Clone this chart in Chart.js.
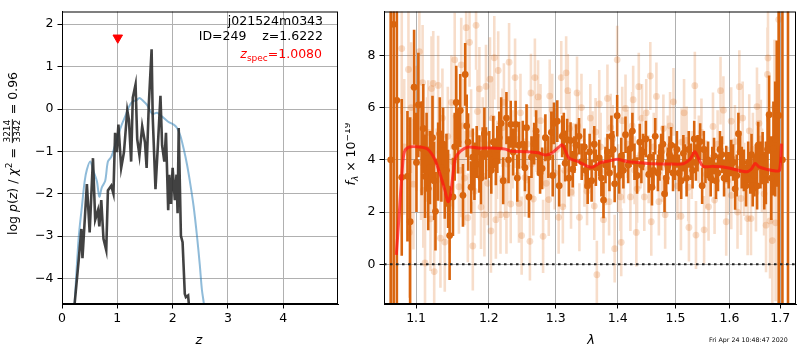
<!DOCTYPE html>
<html>
<head>
<meta charset="utf-8">
<script src="https://cdn.jsdelivr.net/npm/chart.js@4/dist/chart.umd.min.js"></script>
<style>
  html, body { margin: 0; padding: 0; background: #fff; }
  #wrap { position: relative; width: 800px; height: 350px; }
  canvas { position: absolute; top: 0; }
</style>
</head>
<body>
<div id="wrap">
  <canvas id="pz" width="345" height="350" style="left:0"></canvas>
  <canvas id="spec" width="455" height="350" style="left:345px"></canvas>
</div>
<script>
// ---- left panel: p(z) ----
const blueZ = [0.15, 0.23, 0.30, 0.36, 0.41, 0.45, 0.51, 0.57, 0.63, 0.675, 0.72, 0.78, 0.83, 0.89, 0.96, 1.02, 1.08, 1.15, 1.21, 1.28, 1.34, 1.40, 1.46, 1.54, 1.60, 1.64, 1.72, 1.81, 1.92, 2.02, 2.08, 2.14, 2.20, 2.26, 2.32, 2.38, 2.44, 2.49, 2.53, 2.57, 2.65];
const blueLogp = [-6.5, -4.57, -3.06, -2.30, -1.70, -1.43, -1.24, -1.47, -1.70, -2.07, -1.85, -1.70, -1.24, -1.13, -0.86, -0.60, -0.37, -0.15, 0.05, 0.18, 0.20, 0.26, 0.20, 0.09, -0.06, -0.12, -0.09, -0.18, -0.30, -0.37, -0.45, -0.63, -0.94, -1.31, -1.77, -2.30, -2.99, -3.66, -4.27, -4.65, -6.0];

const blackZ = [0.20, 0.23, 0.30, 0.35, 0.37, 0.45, 0.50, 0.56, 0.60, 0.65, 0.675, 0.71, 0.75, 0.80, 0.83, 0.89, 0.93, 0.96, 0.99, 1.02, 1.07, 1.12, 1.18, 1.21, 1.25, 1.28, 1.33, 1.36, 1.40, 1.45, 1.50, 1.53, 1.57, 1.62, 1.64, 1.69, 1.73, 1.78, 1.81, 1.85, 1.88, 1.92, 1.94, 1.97, 2.00, 2.04, 2.07, 2.09, 2.11, 2.15, 2.18, 2.22, 2.24, 2.28, 2.30, 2.33];
const blackLogp = [-5.5, -4.57, -3.59, -2.83, -3.52, -1.77, -2.91, -1.16, -2.61, -2.39, -2.77, -2.15, -3.06, -3.33, -1.92, -1.81, -2.0, -0.56, -1.02, -0.37, -1.39, -1.02, -0.03, -0.25, -1.24, 0.27, 0.58, -0.71, -1.09, -0.41, -0.79, -1.39, 0.12, 1.41, -0.18, -1.89, -0.94, 0.31, -0.86, -1.24, -0.56, -2.39, -1.55, -2.24, -1.39, -2.15, -1.55, -2.46, -0.45, -2.99, -3.14, -4.36, -4.44, -4.40, -4.7, -5.5];

const zspec = [1.008];
const zspecMark = [1.68];
const zTicks = [0, 1, 2, 3, 4];
const logpTicks = [-4, -3, -2, -1, 0, 1, 2];

// ---- right panel: spectrum ----
// dark points with a visible marker
const darkWave = [1.0671, 1.0709, 1.075, 1.0813, 1.0887, 1.0922, 1.0974, 1.103, 1.1073, 1.1118, 1.1139, 1.1184, 1.1218, 1.1258, 1.1294, 1.1338, 1.1384, 1.1429, 1.145, 1.1496, 1.152, 1.1565, 1.1596, 1.1634, 1.1665, 1.1706, 1.1748, 1.1795, 1.1827, 1.1865, 1.1912, 1.1959, 1.2006, 1.2064, 1.2101, 1.215, 1.2207, 1.2255, 1.2318, 1.239, 1.244, 1.2553, 1.2589, 1.2668, 1.2728, 1.2789, 1.2839, 1.2931, 1.2972, 1.3023, 1.3053, 1.3146, 1.3178, 1.3231, 1.3266, 1.3318, 1.3366, 1.3409, 1.3505, 1.3569, 1.3638, 1.3693, 1.3763, 1.3828, 1.3894, 1.3948, 1.399, 1.4058, 1.413, 1.4213, 1.4282, 1.4373, 1.4429, 1.4527, 1.4584, 1.4641, 1.4688, 1.4745, 1.4805, 1.4864, 1.4922, 1.499, 1.5063, 1.5142, 1.5201, 1.5279, 1.534, 1.5401, 1.5449, 1.5486, 1.5547, 1.5645, 1.5708, 1.5782, 1.5857, 1.5938, 1.6033, 1.6109, 1.6172, 1.6237, 1.632, 1.6404, 1.6451, 1.6515, 1.656, 1.6647, 1.6712, 1.6777, 1.6864, 1.6931, 1.697, 1.7046, 1.716];
const darkFlux = [4.0, 9.19, 6.28, 3.33, 3.37, 1.63, 6.78, 6.1, 4.44, 3.37, 4.3, 3.7, 4.85, 2.03, 3.93, 3.7, 3.14, 2.89, 1.1, 2.58, 4.5, 4.68, 5.89, 2.64, 7.27, 4.68, 2.95, 3.56, 4.3, 3.84, 4.25, 4.25, 4.2, 4.68, 3.93, 4.85, 3.2, 5.6, 5.36, 5.36, 4.56, 5.23, 2.58, 4.62, 4.2, 3.67, 4.85, 5.05, 5.4, 5.48, 3.01, 3.87, 4.77, 4.74, 3.64, 4.56, 4.9, 3.93, 3.01, 3.2, 3.7, 4.07, 2.46, 4.3, 4.9, 3.08, 5.69, 4.15, 4.96, 4.43, 3.93, 4.68, 4.3, 3.44, 2.95, 4.9, 3.5, 4.3, 2.7, 3.77, 4.56, 3.93, 3.5, 4.25, 3.3, 3.93, 4.8, 4.25, 4.7, 3.01, 3.8, 3.3, 4.15, 3.5, 4.2, 3.84, 4.07, 2.89, 5.0, 3.7, 3.01, 3.5, 3.01, 3.7, 4.56, 4.07, 3.5, 5.73, 4.43, 5.77, 5.7, 4.0, 12];
const darkErr = [30, 20, 8, 3.0, 2.5, 4, 2.2, 2.0, 1.8, 1.6, 1.5, 1.4, 1.6, 1.5, 1.5, 1.3, 1.4, 1.5, 1.7, 1.5, 1.3, 1.2, 1.4, 1.2, 1.2, 1.1, 1.0, 1.1, 1.0, 1.1, 1.0, 1.0, 0.9, 1.0, 0.9, 1.0, 0.9, 1.0, 0.9, 0.9, 0.9, 0.9, 0.8, 0.8, 0.8, 0.8, 0.9, 0.8, 0.8, 0.8, 0.8, 0.7, 0.8, 0.7, 0.7, 0.8, 0.7, 0.7, 0.7, 0.8, 0.7, 0.7, 0.7, 0.7, 0.8, 0.7, 0.8, 0.7, 0.7, 0.7, 0.7, 0.7, 0.7, 0.7, 0.7, 0.7, 0.7, 0.7, 0.7, 0.7, 0.7, 0.7, 0.7, 0.7, 0.7, 0.7, 0.7, 0.7, 0.7, 0.7, 0.7, 0.7, 0.7, 0.7, 0.7, 0.7, 0.7, 0.8, 0.8, 0.8, 0.8, 0.8, 0.8, 0.9, 0.9, 1.0, 1.2, 1.5, 1.8, 2.8, 30, 30, 30];

// dark bars packed in between (markers mostly hidden by neighbours)
const darkWaveB = [1.1005, 1.1095, 1.1161, 1.1239, 1.1316, 1.1361, 1.1407, 1.1541, 1.1686, 1.1772, 1.1888, 1.1936, 1.2035, 1.2122, 1.2178, 1.2286, 1.2354, 1.2415, 1.2497, 1.2529, 1.2628, 1.2698, 1.2758, 1.2885, 1.2952, 1.3099, 1.3125, 1.3204, 1.3292, 1.3452, 1.3473, 1.3537, 1.3612, 1.3728, 1.3796, 1.3862, 1.3924, 1.4024, 1.4094, 1.4175, 1.4247, 1.4327, 1.4401, 1.4478, 1.4555, 1.4612, 1.4716, 1.4776, 1.4835, 1.4893, 1.4956, 1.5026, 1.5103, 1.5172, 1.524, 1.531, 1.5371, 1.5517, 1.5596, 1.5675, 1.5745, 1.582, 1.5897, 1.5985, 1.607, 1.614, 1.6205, 1.6278, 1.6362, 1.6428, 1.6483, 1.6538, 1.6604, 1.668, 1.6745, 1.6821, 1.6899];
const darkFluxB = [3.9, 5.2, 2.9, 3.2, 5.0, 4.6, 3.6, 6.2, 5.3, 4.1, 3.3, 5.0, 3.6, 4.4, 5.4, 4.0, 4.3, 3.3, 4.6, 3.7, 4.1, 5.1, 3.5, 4.1, 3.4, 4.9, 5.0, 3.3, 4.2, 4.5, 3.6, 4.3, 4.6, 3.3, 3.8, 3.5, 4.4, 3.4, 3.6, 3.8, 5.1, 3.4, 3.8, 4.8, 4.1, 3.6, 3.9, 4.6, 3.3, 4.2, 3.5, 4.4, 3.2, 3.9, 4.4, 3.6, 3.9, 4.4, 4.0, 3.8, 3.2, 4.4, 3.3, 3.6, 3.9, 3.4, 4.3, 3.6, 3.9, 4.2, 3.4, 3.0, 3.8, 3.2, 4.4, 3.3, 4.8];
const darkErrB = [1.9, 1.7, 1.6, 1.5, 1.4, 1.4, 1.4, 1.4, 1.2, 1.1, 1.0, 1.0, 0.9, 0.9, 1.0, 0.9, 0.9, 0.9, 0.9, 0.9, 0.8, 0.8, 0.8, 0.8, 0.8, 0.8, 0.8, 0.7, 0.7, 0.7, 0.7, 0.7, 0.7, 0.7, 0.7, 0.7, 0.7, 0.7, 0.7, 0.7, 0.7, 0.7, 0.7, 0.7, 0.7, 0.7, 0.7, 0.7, 0.7, 0.7, 0.7, 0.7, 0.7, 0.7, 0.7, 0.7, 0.7, 0.7, 0.7, 0.7, 0.7, 0.7, 0.7, 0.7, 0.7, 0.8, 0.8, 0.8, 0.8, 0.8, 0.8, 0.9, 0.9, 1.1, 1.3, 1.6, 2.2];

// faint (second grism) points
const lightWave = [1.0813, 1.09, 1.0913, 1.0965, 1.1043, 1.1086, 1.1095, 1.1118, 1.1161, 1.1191, 1.1205, 1.1228, 1.1241, 1.1294, 1.1317, 1.1325, 1.1384, 1.145, 1.1496, 1.152, 1.1541, 1.1578, 1.161, 1.1634, 1.1679, 1.1702, 1.1726, 1.1772, 1.1818, 1.1838, 1.1865, 1.1888, 1.1936, 1.1959, 1.2016, 1.203, 1.2078, 1.2101, 1.2135, 1.2168, 1.2197, 1.2236, 1.2255, 1.2269, 1.2294, 1.2318, 1.2382, 1.239, 1.2416, 1.244, 1.248, 1.2529, 1.2604, 1.2619, 1.2628, 1.2679, 1.2705, 1.2728, 1.2804, 1.2853, 1.2891, 1.2906, 1.2982, 1.3044, 1.3085, 1.311, 1.3162, 1.3188, 1.3239, 1.3334, 1.3345, 1.3372, 1.3452, 1.3584, 1.3612, 1.3633, 1.3654, 1.3693, 1.3763, 1.3799, 1.3828, 1.3882, 1.3948, 1.399, 1.4046, 1.4058, 1.4103, 1.413, 1.4213, 1.4242, 1.426, 1.4314, 1.4327, 1.4356, 1.4412, 1.4451, 1.4527, 1.4555, 1.4572, 1.4662, 1.4757, 1.4816, 1.4903, 1.4964, 1.5098, 1.5111, 1.5201, 1.5231, 1.5243, 1.5351, 1.5372, 1.5473, 1.5522, 1.5565, 1.5688, 1.5718, 1.583, 1.5938, 1.6033, 1.6035, 1.619, 1.6222, 1.6286, 1.6352, 1.6383, 1.6417, 1.6515, 1.6535, 1.6612, 1.6677, 1.6744, 1.6755, 1.6795, 1.6842, 1.6908, 1.697];
const lightFlux = [8.26, 7.46, 1.22, 3.07, 8.14, 6.96, 2.83, 0.05, 5.05, 1.74, 6.73, 6.93, -0.28, 6.85, 4.3, 1.0, 0.85, 2.33, 3.93, 7.83, 5.67, 2.97, 7.64, 5.3, 9.06, 1.78, 8.5, 0.7, 9.15, 5.85, 6.72, 2.19, 1.9, 6.81, 7.09, 1.28, 7.91, 1.71, 7.42, 1.9, 5.23, 3.2, 1.9, 3.84, 7.74, 2.31, 7.15, 5.19, 3.4, 2.33, 1.1, 3.32, 0.88, 6.56, 3.84, 7.15, 4.93, 6.41, 1.07, 3.1, 2.48, 6.44, 3.5, 1.8, 7.15, 2.2, 7.33, 6.65, 2.76, 6.56, 5.3, 1.8, 3.5, 4.56, 2.23, 5.07, -0.4, 6.14, 1.71, 3.56, 6.35, 5.23, 0.6, 7.83, 2.58, 0.84, 3.64, 5.97, 2.58, 5.3, 6.3, 1.22, 2.89, 6.8, 5.6, 2.58, 3.64, 7.21, 1.63, 6.43, 3.7, 1.9, 5.3, 6.22, 1.84, 4.68, 4.74, 2.95, 1.41, 6.84, 1.12, 5.05, 1.32, 3.44, 5.28, 2.46, 6.65, 1.63, 5.48, 2.64, 6.8, 2.52, 3.25, 1.75, 5.11, 1.75, 2.76, 6.04, 4.8, 2.7, 7.27, 7.9, 1.66, 0.91, 1.59, 9.37];
const lightErr = [2.5, 2.5, 2.5, 2.5, 2.3, 2.2, 2.2, 2.0, 2.0, 2.0, 2.0, 2.0, 2.0, 1.9, 1.9, 1.9, 1.9, 1.9, 1.8, 1.8, 1.8, 1.8, 1.8, 1.8, 1.8, 1.7, 1.7, 1.7, 1.7, 1.6, 1.6, 1.6, 1.6, 1.6, 1.6, 1.6, 1.6, 1.5, 1.5, 1.5, 1.5, 1.5, 1.5, 1.5, 1.5, 1.5, 1.5, 1.5, 1.5, 1.5, 1.5, 1.5, 1.5, 1.5, 1.4, 1.5, 1.4, 1.4, 1.4, 1.4, 1.4, 1.4, 1.4, 1.4, 1.4, 1.4, 1.4, 1.4, 1.4, 1.4, 1.3, 1.3, 1.3, 1.3, 1.3, 1.3, 1.3, 1.3, 1.3, 1.3, 1.3, 1.3, 1.3, 1.3, 1.3, 1.3, 1.3, 1.3, 1.3, 1.3, 1.3, 1.3, 1.3, 1.3, 1.3, 1.3, 1.3, 1.3, 1.3, 1.3, 1.3, 1.3, 1.3, 1.3, 1.3, 1.3, 1.3, 1.3, 1.3, 1.3, 1.3, 1.3, 1.3, 1.3, 1.3, 1.3, 1.3, 1.3, 1.3, 1.3, 1.4, 1.4, 1.4, 1.4, 1.4, 1.4, 1.5, 1.5, 1.5, 1.6, 1.8, 2.0, 2.2, 2.5, 3.0, 4.0];

const lightWaveB = [1.0845, 1.0935, 1.1005, 1.1065, 1.1145, 1.1272, 1.1352, 1.1425, 1.1475, 1.1598, 1.1655, 1.1748, 1.1795, 1.1912, 1.1985, 1.2055, 1.2118, 1.2218, 1.2345, 1.2462, 1.2565, 1.2655, 1.2765, 1.2832, 1.2945, 1.3012, 1.3138, 1.3215, 1.3275, 1.3405, 1.3495, 1.3548, 1.3715, 1.3855, 1.3915, 1.4005, 1.4075, 1.4165, 1.4285, 1.4385, 1.4485, 1.4615, 1.4705, 1.4785, 1.4862, 1.5035, 1.5155, 1.5295, 1.5425, 1.5605, 1.5775, 1.5885, 1.5965, 1.6105, 1.6155, 1.6255, 1.6455, 1.6575, 1.6635, 1.6715, 1.6885, 1.6925];
const lightFluxB = [4.5, 6.0, 5.2, 3.9, 4.4, 3.2, 5.6, 4.9, 6.2, 3.6, 3.3, 5.0, 2.8, 4.8, 3.1, 5.6, 4.0, 6.2, 4.4, 5.8, 4.6, 2.5, 5.5, 4.3, 5.9, 4.4, 3.6, 5.2, 4.0, 6.0, 2.8, 5.6, 4.5, 2.4, 4.8, 3.3, 5.5, 4.6, 3.6, 4.2, 5.8, 4.5, 2.4, 5.2, 4.4, 3.0, 5.8, 3.8, 4.4, 2.2, 4.6, 5.9, 3.2, 4.7, 2.0, 5.6, 4.4, 5.4, 3.6, 1.5, 6.0, 3.5];
const lightErrB = [2.6, 2.5, 2.4, 2.2, 2.0, 2.0, 1.9, 1.9, 1.8, 1.8, 1.8, 1.7, 1.7, 1.6, 1.6, 1.6, 1.5, 1.5, 1.5, 1.5, 1.5, 1.4, 1.4, 1.4, 1.4, 1.4, 1.4, 1.4, 1.4, 1.3, 1.3, 1.3, 1.3, 1.3, 1.3, 1.3, 1.3, 1.3, 1.3, 1.3, 1.3, 1.3, 1.3, 1.3, 1.3, 1.3, 1.3, 1.3, 1.3, 1.3, 1.3, 1.3, 1.3, 1.4, 1.4, 1.4, 1.4, 1.5, 1.6, 1.8, 2.6, 3.5];

const modelWave = [1.0743, 1.0784, 1.0818, 1.0848, 1.0913, 1.1043, 1.1152, 1.1241, 1.1306, 1.1386, 1.1429, 1.1461, 1.1496, 1.1529, 1.16, 1.1708, 1.1852, 1.2033, 1.2236, 1.2323, 1.2529, 1.2728, 1.2831, 1.2931, 1.3034, 1.3099, 1.3135, 1.3208, 1.3345, 1.3505, 1.3584, 1.3713, 1.3882, 1.399, 1.415, 1.4327, 1.4605, 1.4903, 1.5142, 1.5262, 1.5351, 1.5418, 1.5504, 1.5688, 1.5876, 1.6066, 1.632, 1.6417, 1.65, 1.6577, 1.6744, 1.6908, 1.6988, 1.7028];
const modelFlux = [0.36, 2.09, 3.57, 4.31, 4.49, 4.49, 4.41, 4.06, 3.57, 2.83, 2.4, 2.64, 3.44, 4.06, 4.33, 4.49, 4.45, 4.45, 4.41, 4.33, 4.31, 4.27, 4.19, 4.25, 4.46, 4.58, 4.43, 4.06, 3.94, 3.75, 3.72, 3.89, 3.97, 4.02, 3.94, 3.9, 3.85, 3.84, 3.85, 4.02, 4.31, 4.06, 3.75, 3.75, 3.73, 3.65, 3.54, 3.63, 3.86, 3.73, 3.63, 3.57, 3.6, 4.62];

const zeroWave = [1.0586, 1.7325];
const zeroFlux = [0, 0];
const waveTicks = [1.1, 1.2, 1.3, 1.4, 1.5, 1.6, 1.7];
const fluxTicks = [0, 2, 4, 6, 8];

const FONT = '"DejaVu Sans", sans-serif';
const DARK = 'rgb(217,101,14)';
const LIGHT = 'rgba(217,101,14,0.22)';

function xy(xs, ys) { return xs.map((x, i) => ({ x: x, y: ys[i] })); }
function errBars(xs, ys, es) {
  const out = [];
  xs.forEach((x, i) => {
    out.push({ x: x, y: ys[i] - es[i] }, { x: x, y: ys[i] + es[i] }, { x: x, y: null });
  });
  return out;
}
function minus(v) { return String(v).replace('-', '\u2212'); }

// draw a run of text pieces (font, dy, color) starting at x
function drawRuns(ctx, runs, x, y, align) {
  let total = 0;
  runs.forEach(r => { ctx.font = r.font; r.w = r.w || ctx.measureText(r.t).width; total += r.w; });
  let cx = align === 'right' ? x - total : align === 'center' ? x - total / 2 : x;
  runs.forEach(r => {
    ctx.font = r.font;
    ctx.fillStyle = r.color || '#000';
    if (r.frac) {
      ctx.textAlign = 'center';
      ctx.fillText(r.frac[0], cx + r.w / 2, y - 6.5);
      ctx.fillText(r.frac[1], cx + r.w / 2, y + 3.5);
      ctx.fillRect(cx + 1, y - 4.6, r.w - 2, 0.9);
      ctx.textAlign = 'left';
    } else {
      ctx.textAlign = 'left';
      ctx.fillText(r.t, cx, y + (r.dy || 0));
    }
    cx += r.w;
  });
}

const n = (s) => s + 'px ' + FONT;
const it = (s) => 'italic ' + s + 'px ' + FONT;

function frame(chart) {
  const a = chart.chartArea, ctx = chart.ctx;
  ctx.save();
  ctx.strokeStyle = '#000';
  ctx.lineWidth = 1;
  ctx.strokeRect(a.left + 0.5, a.top + 0.5, a.right - a.left - 1, a.bottom - a.top - 1);
  ctx.restore();
}

const leftDeco = {
  id: 'leftDeco',
  afterDraw(chart) {
    frame(chart);
    const ctx = chart.ctx;
    ctx.save();
    ctx.textBaseline = 'alphabetic';
    drawRuns(ctx, [{ t: 'j021524m0343', font: n(12.5) }], 323, 25, 'right');
    drawRuns(ctx, [{ t: 'ID=249    z=1.6222', font: n(12.5) }], 323, 39.5, 'right');
    drawRuns(ctx, [
      { t: 'z', font: it(12.5), color: 'red' },
      { t: 'spec', font: n(9), dy: 3, color: 'red' },
      { t: '=1.0080', font: n(12.5), color: 'red' }
    ], 322, 58, 'right');
    drawRuns(ctx, [{ t: 'z', font: it(13) }], 199, 344, 'center');
    // y label, rotated
    ctx.translate(16.5, 153.5);
    ctx.rotate(-Math.PI / 2);
    ctx.font = n(9);
    const fw = ctx.measureText('3342').width + 3;
    drawRuns(ctx, [
      { t: 'log ', font: n(12.5) },
      { t: 'p', font: it(12.5) },
      { t: '(', font: n(12.5) },
      { t: 'z', font: it(12.5) },
      { t: ') / ', font: n(12.5) },
      { t: '\u03c7', font: it(12.5) },
      { t: '2', font: n(9), dy: -5 },
      { t: ' = ', font: n(12.5) },
      { t: '', font: n(9), w: fw, frac: ['3214', '3342'] },
      { t: ' = 0.96', font: n(12.5) }
    ], 0, 0, 'center');
    ctx.restore();
  }
};

const rightDeco = {
  id: 'rightDeco',
  afterDraw(chart) {
    frame(chart);
    const ctx = chart.ctx;
    ctx.save();
    ctx.textBaseline = 'alphabetic';
    drawRuns(ctx, [{ t: '\u03bb', font: it(13) }], 246, 344, 'center');
    drawRuns(ctx, [{ t: 'Fri Apr 24 10:48:47 2020', font: n(6.3) }], 442.7, 342, 'right');
    ctx.translate(10, 154);
    ctx.rotate(-Math.PI / 2);
    drawRuns(ctx, [
      { t: 'f', font: it(12.5) },
      { t: '\u03bb', font: it(9), dy: 3 },
      { t: ' \u00d7 10', font: n(12.5) },
      { t: '\u221219', font: n(9), dy: -5 }
    ], 0, 0, 'center');
    ctx.restore();
  }
};

const tickFont = { family: FONT, size: 12.5 };
const gridOpts = { color: '#b0b0b0', lineWidth: 1, tickLength: 4.5, tickColor: '#000', drawTicks: true };
const baseOpts = {
  responsive: false,
  devicePixelRatio: 1,
  animation: false,
  events: [],
  plugins: { legend: { display: false }, tooltip: { enabled: false } }
};

new Chart(document.getElementById('pz'), {
  type: 'line',
  data: {
    datasets: [
      { data: xy(zspec, zspecMark), showLine: false, pointStyle: 'triangle', rotation: 180, pointRadius: 5.5, pointBackgroundColor: 'red', pointBorderColor: 'red', order: 0 },
      { data: xy(blackZ, blackLogp), borderColor: 'rgba(45,45,45,0.9)', borderWidth: 2.6, pointRadius: 0, tension: 0, order: 1 },
      { data: xy(blueZ, blueLogp), borderColor: 'rgba(31,119,180,0.5)', borderWidth: 2, pointRadius: 0, tension: 0.3, order: 2 }
    ]
  },
  options: Object.assign({}, baseOpts, {
    layout: { padding: { left: 0, top: 1, right: 7, bottom: 0 } },
    scales: {
      x: {
        type: 'linear', min: 0, max: 4.99, bounds: 'data',
        afterBuildTicks: s => { s.ticks = zTicks.map(v => ({ value: v })); },
        afterFit: s => { s.height = 46; },
        ticks: { font: tickFont, color: '#000', padding: 3, maxRotation: 0, callback: v => minus(v) },
        grid: gridOpts,
        border: { color: '#000', width: 1 }
      },
      y: {
        type: 'linear', min: -4.6, max: 2.3, bounds: 'data',
        afterBuildTicks: s => { s.ticks = logpTicks.map(v => ({ value: v })); },
        afterFit: s => { s.width = 62; },
        ticks: { font: tickFont, color: '#000', padding: 4, callback: v => minus(v) },
        grid: gridOpts,
        border: { color: '#000', width: 1 }
      }
    }
  }),
  plugins: [leftDeco]
});

const allDarkWave = darkWave.concat(darkWaveB);
const allDarkFlux = darkFlux.concat(darkFluxB);
const allDarkErr = darkErr.concat(darkErrB);
const allLightWave = lightWave.concat(lightWaveB);
const allLightFlux = lightFlux.concat(lightFluxB);
const allLightErr = lightErr.concat(lightErrB);

new Chart(document.getElementById('spec'), {
  type: 'line',
  data: {
    datasets: [
      { data: xy(modelWave, modelFlux), borderColor: 'rgba(255,20,20,0.72)', borderWidth: 3, pointRadius: 0, tension: 0.3, order: 0 },
      { data: xy(zeroWave, zeroFlux), borderColor: '#222', borderWidth: 2, borderDash: [2.5, 3.5], pointRadius: 0, order: 1 },
      { data: xy(allDarkWave, allDarkFlux), showLine: false, pointRadius: 3.4, pointBackgroundColor: DARK, pointBorderColor: DARK, pointBorderWidth: 0, order: 2 },
      { data: errBars(allDarkWave, allDarkFlux, allDarkErr), borderColor: DARK, borderWidth: 2.6, pointRadius: 0, spanGaps: false, order: 3 },
      { data: xy(allLightWave, allLightFlux), showLine: false, pointRadius: 3.4, pointBackgroundColor: LIGHT, pointBorderColor: LIGHT, pointBorderWidth: 0, order: 4 },
      { data: errBars(allLightWave, allLightFlux, allLightErr), borderColor: LIGHT, borderWidth: 2.6, pointRadius: 0, spanGaps: false, order: 5 }
    ]
  },
  options: Object.assign({}, baseOpts, {
    layout: { padding: { left: 0, top: 1, right: 1, bottom: 0 } },
    scales: {
      x: {
        type: 'logarithmic', min: 1.0586, max: 1.7325, bounds: 'data',
        afterBuildTicks: s => { s.ticks = waveTicks.map(v => ({ value: v })); },
        afterFit: s => { s.height = 46; },
        ticks: { font: tickFont, color: '#000', padding: 3, maxRotation: 0, autoSkip: false, callback: v => Number(v).toFixed(1) },
        grid: gridOpts,
        border: { color: '#000', width: 1 }
      },
      y: {
        type: 'linear', min: -1.52, max: 9.68, bounds: 'data',
        afterBuildTicks: s => { s.ticks = fluxTicks.map(v => ({ value: v })); },
        afterFit: s => { s.width = 39; },
        ticks: { font: tickFont, color: '#000', padding: 4, callback: v => minus(v) },
        grid: gridOpts,
        border: { color: '#000', width: 1 }
      }
    }
  }),
  plugins: [rightDeco]
});
</script>
</body>
</html>
